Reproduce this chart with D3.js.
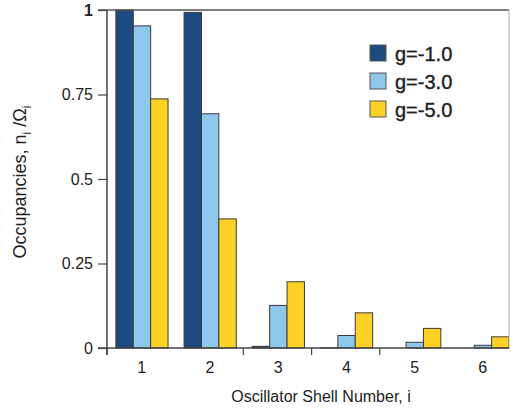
<!DOCTYPE html>
<html>
<head>
<meta charset="utf-8">
<script src="https://cdn.jsdelivr.net/npm/d3@7"></script>
<style>
  html, body { margin: 0; padding: 0; background: #fff; }
  svg { display: block; font-family: "Liberation Sans", Arial, sans-serif; }
</style>
</head>
<body>
<svg id="chart" width="513" height="412"></svg>
<script>
// Shell occupancies for three coupling strengths
const shells = ["1", "2", "3", "4", "5", "6"];
const seriesNames = ["g=-1.0", "g=-3.0", "g=-5.0"];
const gMinus1 = [1.0, 0.993, 0.005, 0.0005, 0.0, 0.0];
const gMinus3 = [0.953, 0.693, 0.126, 0.037, 0.017, 0.008];
const gMinus5 = [0.737, 0.382, 0.196, 0.104, 0.058, 0.033];
const yTicks = [0, 0.25, 0.5, 0.75, 1];
const yTickLabels = ["0", "0.25", "0.5", "0.75", "1"];
const colors = ["#1d4a80", "#8ec7ec", "#fdd225"];

const seriesValues = [gMinus1, gMinus3, gMinus5];

const svg = d3.select("#chart");
const plotLeft = 107, plotRight = 509, plotTop = 10, plotBottom = 348;

const x = d3.scaleBand().domain(shells).range([plotLeft, plotLeft + 6 * 68.2]).padding(0);
const xs = d3.scaleBand().domain(seriesNames)
  .range([x.bandwidth() * 0.13, x.bandwidth() * 0.895]).padding(0);
const y = d3.scaleLinear().domain([0, 1]).range([plotBottom, plotTop]);

// clip bars to the plot frame
svg.append("defs").append("clipPath").attr("id", "plotClip")
  .append("rect").attr("x", plotLeft).attr("y", 0)
  .attr("width", plotRight - plotLeft).attr("height", plotBottom + 1);

// bars
const groups = svg.append("g").attr("clip-path", "url(#plotClip)")
  .selectAll("g.shell").data(shells).join("g")
  .attr("class", "shell")
  .attr("transform", d => `translate(${x(d)},0)`);

groups.selectAll("rect")
  .data((d, i) => seriesNames.map((s, j) => ({ s, j, v: seriesValues[j][i] })))
  .join("rect")
  .attr("x", d => xs(d.s))
  .attr("width", xs.bandwidth())
  .attr("y", d => y(d.v))
  .attr("height", d => plotBottom - y(d.v))
  .attr("fill", d => colors[d.j])
  .attr("stroke", "#3a3a3a")
  .attr("stroke-width", 1);

// frame: top and right borders
svg.append("line").attr("x1", 98).attr("x2", plotRight).attr("y1", plotTop).attr("y2", plotTop)
  .attr("stroke", "#555").attr("stroke-width", 1.5);
svg.append("line").attr("x1", plotRight).attr("x2", plotRight).attr("y1", plotTop).attr("y2", plotBottom)
  .attr("stroke", "#aaa").attr("stroke-width", 1);

// y axis
const yAxis = d3.axisLeft(y).tickValues(yTicks)
  .tickFormat((d, i) => yTickLabels[i]).tickSize(9).tickPadding(5);
const gy = svg.append("g").attr("transform", `translate(${plotLeft},0)`).call(yAxis);
gy.select(".domain").attr("d", `M0,${plotTop}V${plotBottom + 7}`)
  .attr("stroke", "#444").attr("stroke-width", 1.5);
gy.selectAll(".tick line").attr("stroke", "#444").attr("stroke-width", 1.2);
gy.selectAll(".tick text")
  .attr("font-size", 16)
  .attr("font-family", "Liberation Sans, Arial, sans-serif")
  .attr("fill", "#222")
  .attr("font-weight", d => d === 1 ? "bold" : "normal");

// x axis: baseline, group-boundary ticks and shell labels
svg.append("line").attr("x1", 98).attr("x2", plotRight).attr("y1", plotBottom).attr("y2", plotBottom)
  .attr("stroke", "#444").attr("stroke-width", 1.5);
const tickShells = ["1", "3", "4", "5"];
svg.append("g").selectAll("line").data(tickShells).join("line")
  .attr("x1", d => x(d)).attr("x2", d => x(d))
  .attr("y1", plotBottom).attr("y2", plotBottom + 7)
  .attr("stroke", "#444").attr("stroke-width", 1.2);
svg.append("g").selectAll("text").data(shells).join("text")
  .attr("x", d => x(d) + x.bandwidth() * 0.51)
  .attr("y", 373)
  .attr("text-anchor", "middle")
  .attr("font-size", 16)
  .attr("fill", "#222")
  .text(d => d);

// axis titles
svg.append("text")
  .attr("x", 321).attr("y", 402)
  .attr("text-anchor", "middle")
  .attr("font-size", 16).attr("fill", "#222")
  .text("Oscillator Shell Number, i");

const yl = svg.append("text")
  .attr("transform", "translate(26,182) rotate(-90)")
  .attr("text-anchor", "middle")
  .attr("font-size", 18).attr("fill", "#222");
yl.append("tspan").text("Occupancies, n");
yl.append("tspan").attr("font-size", 12).attr("dy", 5).text("i");
yl.append("tspan").attr("dy", -5).attr("dx", 5).text("/Ω");
yl.append("tspan").attr("font-size", 12).attr("dy", 5).text("i");

// legend
const legend = svg.append("g").selectAll("g").data(seriesNames).join("g")
  .attr("transform", (d, i) => `translate(370,${45 + i * 28})`);
legend.append("rect")
  .attr("width", 16).attr("height", 16)
  .attr("fill", (d, i) => colors[i])
  .attr("stroke", "#555").attr("stroke-width", 1);
legend.append("text")
  .attr("x", 25).attr("y", 16)
  .attr("font-size", 20).attr("fill", "#222")
  .attr("stroke", "#222").attr("stroke-width", 0.4)
  .text(d => d);
</script>
</body>
</html>
